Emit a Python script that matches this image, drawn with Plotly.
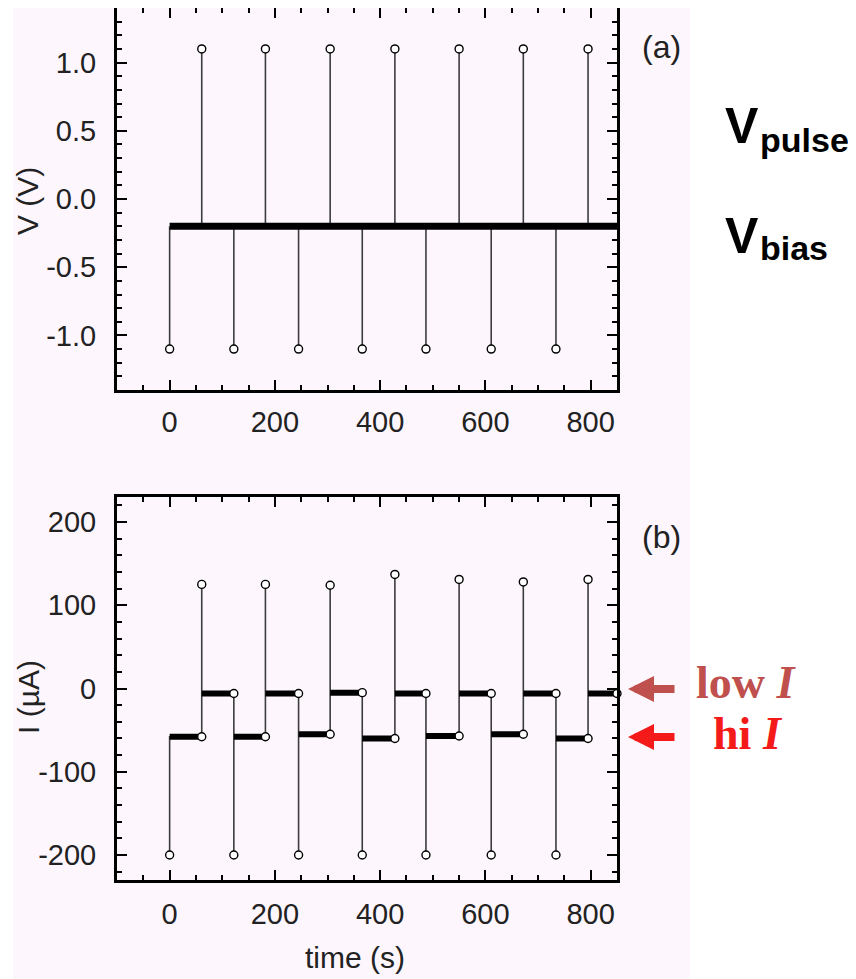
import plotly.graph_objects as go

# ---------------- data ----------------
t_neg = [0, 122, 245, 366, 487, 611, 734]        # negative pulse times (s)
t_pos = [61, 182, 305, 428, 550, 672, 795]       # positive pulse times (s)
t_end = 850
v_pos = [1.1, 1.1, 1.1, 1.1, 1.1, 1.1, 1.1]
v_neg = [-1.1, -1.1, -1.1, -1.1, -1.1, -1.1, -1.1]
v_bias = -0.2

i_neg = [-200, -200, -200, -200, -200, -200, -200]
i_peak = [125, 125, 124, 137, 131, 128, 131]
i_hi = [-58, -58, -55, -60, -57, -55, -60]
i_low = [-6, -6, -5, -6, -6, -6, -6]

x_ticks = [0, 200, 400, 600, 800]
v_ticks = [1.0, 0.5, 0.0, -0.5, -1.0]
v_tick_text = ["1.0", "0.5", "0.0", "-0.5", "-1.0"]
i_ticks = [200, 100, 0, -100, -200]
i_tick_text = ["200", "100", "0", "-100", "-200"]

# ---------------- geometry helpers (screen px -> paper) ----------------
OFF = 8                      # page body margin
W, H = 856 - OFF, 979 - OFF
ML = 117 - OFF
MR = W - (617 - OFF)
MT = 0
MB = H - (880 - OFF)
PW = W - ML - MR
PH = H - MT - MB


def px(x):
    return (x - OFF - ML) / PW


def py(y):
    return (H - MB - (y - OFF)) / PH


PINK = "#fdf7fd"
STEM = "#3c3c3c"
FONT = "Liberation Sans, Arial, Helvetica, sans-serif"
SERIF = "Liberation Serif, Times New Roman, serif"

fig = go.Figure()

# ---------------- panel (a) ----------------
sx, sy = [], []
for t, v in zip(t_pos, v_pos):
    sx += [t, t, None]
    sy += [v_bias, v, None]
for t, v in zip(t_neg, v_neg):
    sx += [t, t, None]
    sy += [v_bias, v, None]
fig.add_trace(go.Scatter(x=sx, y=sy, mode="lines", line=dict(color=STEM, width=1.6),
                         xaxis="x", yaxis="y", hoverinfo="skip"))
fig.add_trace(go.Scatter(x=[t_neg[0], t_end], y=[v_bias, v_bias], mode="lines",
                         line=dict(color="black", width=7), xaxis="x", yaxis="y",
                         hoverinfo="skip"))
fig.add_trace(go.Scatter(x=t_pos + t_neg, y=v_pos + v_neg, mode="markers",
                         marker=dict(symbol="circle", size=8, color="white",
                                     line=dict(color="black", width=1.4)),
                         xaxis="x", yaxis="y", cliponaxis=False))

# ---------------- panel (b) ----------------
n = len(t_neg)
path_x, path_y = [], []
thick_x, thick_y = [], []
cx, cy = [], []
for k in range(n):
    tn, tp = t_neg[k], t_pos[k]
    nxt = t_neg[k + 1] if k < n - 1 else t_end
    if k == 0:
        path_x += [tn]
        path_y += [i_neg[k]]
    else:
        path_x += [tn, tn]
        path_y += [i_low[k - 1], i_neg[k]]
    path_x += [tn, tp, tp, tp, nxt]
    path_y += [i_hi[k], i_hi[k], i_peak[k], i_low[k], i_low[k]]
    thick_x += [tn, tp, None, tp, nxt, None]
    thick_y += [i_hi[k], i_hi[k], None, i_low[k], i_low[k], None]
    cx += [tn, tp, tp, nxt]
    cy += [i_neg[k], i_peak[k], i_hi[k], i_low[k]]

fig.add_trace(go.Scatter(x=path_x, y=path_y, mode="lines",
                         line=dict(color=STEM, width=1.6),
                         xaxis="x2", yaxis="y2", hoverinfo="skip"))
fig.add_trace(go.Scatter(x=thick_x, y=thick_y, mode="lines",
                         line=dict(color="black", width=6),
                         xaxis="x2", yaxis="y2", hoverinfo="skip"))
fig.add_trace(go.Scatter(x=cx, y=cy, mode="markers",
                         marker=dict(symbol="circle", size=8, color="white",
                                     line=dict(color="black", width=1.4)),
                         xaxis="x2", yaxis="y2", cliponaxis=False))


# ---------------- axes ----------------
def axis_style(**kw):
    d = dict(showline=True, linecolor="black", linewidth=3, mirror="ticks",
             ticks="inside", ticklen=10, tickwidth=2, tickcolor="black",
             showgrid=False, zeroline=False, automargin=False,
             tickfont=dict(family=FONT, size=29, color="#222"))
    d.update(kw)
    return d


top_dom = [py(390), 1.0]
bot_dom = [0.0, py(497)]

fig.update_layout(
    width=W, height=H,
    margin=dict(l=ML, r=MR, t=MT, b=MB, pad=0),
    paper_bgcolor="white", plot_bgcolor=PINK,
    showlegend=False,
    xaxis=axis_style(domain=[0, 1], range=[-100, t_end], anchor="y",
                     tickvals=x_ticks, ticklabelstandoff=4,
                     minor=dict(ticks="inside", dtick=50, ticklen=5, tickwidth=1.5,
                                tickcolor="black")),
    yaxis=axis_style(domain=top_dom, range=[-1.4, 1.4], anchor="x",
                     tickvals=v_ticks, ticktext=v_tick_text, ticklabelstandoff=12,
                     minor=dict(ticks="inside", dtick=0.1, ticklen=5, tickwidth=1.5,
                                tickcolor="black")),
    xaxis2=axis_style(domain=[0, 1], range=[-100, t_end], anchor="y2",
                      tickvals=x_ticks, ticklabelstandoff=6,
                      minor=dict(ticks="inside", dtick=50, ticklen=5, tickwidth=1.5,
                                 tickcolor="black")),
    yaxis2=axis_style(domain=bot_dom, range=[-230, 230], anchor="x2",
                      tickvals=i_ticks, ticktext=i_tick_text, ticklabelstandoff=12,
                      minor=dict(ticks="inside", dtick=20, ticklen=5, tickwidth=1.5,
                                 tickcolor="black")),
)

# pink page background like the source figure
fig.add_shape(type="rect", xref="paper", yref="paper",
              x0=px(13), x1=px(690), y0=py(979), y1=py(5),
              fillcolor=PINK, line=dict(width=0), layer="below")


def txt(text, x, y, size, color="#222", family=FONT, xa="center", ya="middle", angle=0):
    return dict(text=text, x=px(x), y=py(y), xref="paper", yref="paper",
                xanchor=xa, yanchor=ya, textangle=angle, showarrow=False,
                font=dict(family=family, size=size, color=color))


ann = []
# axis titles
ann.append(txt("V (V)", 28, 201, 30, angle=-90))
ann.append(txt("I (µA)", 28, 697, 30, angle=-90))
ann.append(txt("time (s)", 355, 957, 30))
# panel labels
ann.append(txt("(a)", 661, 47, 32))
ann.append(txt("(b)", 661, 537, 32))
# V labels
ann.append(txt("<b>V</b>", 723, 126, 50, color="black", xa="left"))
ann.append(txt("<b>pulse</b>", 758, 140, 34, color="black", xa="left"))
ann.append(txt("<b>V</b>", 723, 236, 50, color="black", xa="left"))
ann.append(txt("<b>bias</b>", 758, 248, 34, color="black", xa="left"))
# current level labels
LOWC = "#c0504d"
HIC = "#f41a1a"
ann.append(txt("<b>low <i>I</i></b>", 694, 682, 46, color=LOWC, family=SERIF, xa="left"))
ann.append(txt("<b>hi <i>I</i></b>", 711, 733, 46, color=HIC, family=SERIF, xa="left"))
# arrows
ann.append(dict(text="", x=px(628), y=py(689), xref="paper", yref="paper",
                showarrow=True, ax=48, ay=0, arrowhead=2, arrowsize=0.65,
                arrowwidth=8, arrowcolor=LOWC))
ann.append(dict(text="", x=px(628), y=py(737), xref="paper", yref="paper",
                showarrow=True, ax=48, ay=0, arrowhead=2, arrowsize=0.65,
                arrowwidth=8, arrowcolor=HIC))
fig.update_layout(annotations=ann)

fig.write_html("out.html")
